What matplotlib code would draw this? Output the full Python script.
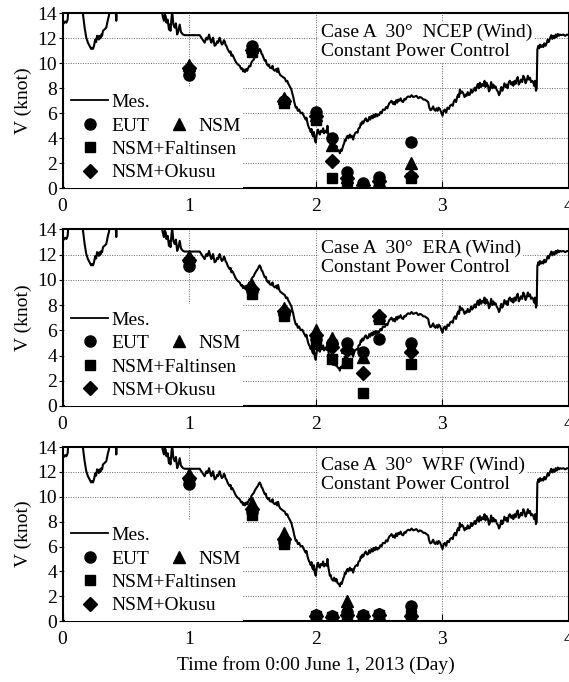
import matplotlib
matplotlib.use("Agg")
import matplotlib.pyplot as plt
from matplotlib.lines import Line2D

plt.rcParams["font.family"] = ["Liberation Serif", "DejaVu Serif"]
plt.rcParams["font.size"] = 14

# measured speed (same record in every panel)
mes_day = [
    0.000, 0.010, 0.020, 0.030, 0.040, 0.047, 0.080, 0.120, 0.155,
    0.160, 0.174, 0.187, 0.200, 0.213, 0.225, 0.232, 0.240, 0.248, 0.258, 0.265,
    0.272, 0.280, 0.286, 0.292, 0.299, 0.306, 0.312, 0.319, 0.330, 0.345, 0.352,
    0.358, 0.366, 0.372, 0.400, 0.418, 0.424, 0.430, 0.450, 0.550, 0.700, 0.780,
    0.790, 0.800, 0.808, 0.815, 0.820, 0.830, 0.840, 0.845, 0.852, 0.860, 0.866,
    0.875, 0.885, 0.895, 0.905, 0.915, 0.925, 0.935, 0.951, 0.965, 1.083,
    1.096, 1.110, 1.122, 1.130, 1.136, 1.145, 1.157, 1.165, 1.175, 1.182, 1.188,
    1.195, 1.201, 1.212, 1.220, 1.228, 1.235, 1.241, 1.250, 1.258, 1.267, 1.274,
    1.281, 1.288, 1.294, 1.305, 1.320, 1.327, 1.333, 1.340, 1.346, 1.355, 1.364,
    1.372, 1.385, 1.399, 1.410, 1.418, 1.425, 1.432, 1.440, 1.451, 1.458, 1.465,
    1.475, 1.483, 1.491, 1.500, 1.510, 1.518, 1.530, 1.544, 1.550, 1.557, 1.565,
    1.572, 1.578, 1.585, 1.597, 1.605, 1.612, 1.623, 1.630, 1.637, 1.650, 1.658,
    1.665, 1.676, 1.688, 1.695, 1.702, 1.710, 1.720, 1.728, 1.740, 1.755, 1.765,
    1.775, 1.781, 1.792, 1.807, 1.814, 1.820, 1.830, 1.842, 1.850, 1.858, 1.868,
    1.874, 1.882, 1.894, 1.900, 1.913, 1.920, 1.926, 1.935, 1.940, 1.948, 1.953,
    1.960, 1.966, 1.972, 1.979, 1.985, 1.992, 2.000, 2.006, 2.012, 2.018, 2.025,
    2.032, 2.040, 2.050, 2.058, 2.065, 2.072, 2.084, 2.092, 2.098, 2.105, 2.111,
    2.118, 2.125, 2.137, 2.145, 2.155, 2.163, 2.170, 2.178, 2.185, 2.190, 2.197,
    2.205, 2.216, 2.224, 2.230, 2.236, 2.242, 2.250, 2.258, 2.269, 2.277, 2.285,
    2.295, 2.302, 2.310, 2.321, 2.330, 2.338, 2.348, 2.355, 2.361, 2.368, 2.375,
    2.387, 2.395, 2.405, 2.414, 2.422, 2.430, 2.440, 2.450, 2.458, 2.466, 2.475,
    2.485, 2.493, 2.500, 2.510, 2.519, 2.530, 2.545, 2.555, 2.565, 2.572, 2.580,
    2.590, 2.598, 2.610, 2.618, 2.625, 2.635, 2.643, 2.651, 2.660, 2.670, 2.680,
    2.690, 2.700, 2.710, 2.717, 2.730, 2.745, 2.756, 2.770, 2.783, 2.795, 2.810,
    2.822, 2.835, 2.850, 2.862, 2.875, 2.888, 2.895, 2.905, 2.914, 2.927, 2.935,
    2.945, 2.954, 2.962, 2.970, 2.980, 2.990, 3.001, 3.010, 3.020, 3.030, 3.040,
    3.052, 3.060, 3.072, 3.082, 3.090, 3.099, 3.108, 3.118, 3.125, 3.132, 3.138,
    3.145, 3.155, 3.165, 3.175, 3.185, 3.191, 3.200, 3.210, 3.217, 3.227, 3.235,
    3.244, 3.255, 3.262, 3.270, 3.280, 3.288, 3.296, 3.305, 3.315, 3.323, 3.333,
    3.340, 3.349, 3.360, 3.368, 3.375, 3.385, 3.395, 3.402, 3.410, 3.420, 3.428,
    3.440, 3.447, 3.454, 3.465, 3.473, 3.481, 3.490, 3.500, 3.507, 3.515, 3.525,
    3.533, 3.545, 3.553, 3.560, 3.570, 3.578, 3.586, 3.595, 3.603, 3.612, 3.620,
    3.630, 3.639, 3.648, 3.657, 3.665, 3.675, 3.683, 3.692, 3.700, 3.710, 3.718,
    3.725, 3.732, 3.739, 3.745, 3.750, 3.758, 3.765, 3.771, 3.780, 3.790, 3.797,
    3.805, 3.815, 3.823, 3.832, 3.840, 3.850, 3.860, 3.868, 3.876, 3.885, 3.895,
    3.902, 3.912, 3.920, 3.929, 3.940, 3.955, 3.970, 3.985, 4.000,
]
mes_knot = [
    13.40, 13.20, 13.35, 13.25, 13.50, 14.60, 15.00, 15.00, 14.40,
    14.00, 12.85, 12.05, 11.65, 11.40, 11.15, 11.25, 11.15, 11.40, 11.90, 11.70,
    12.20, 12.15, 11.90, 12.20, 12.00, 12.30, 12.20, 12.60, 12.70, 12.85, 13.20,
    13.50, 13.80, 14.30, 15.00, 14.50, 13.40, 14.50, 15.20, 15.50, 15.50, 14.60,
    13.80, 13.40, 13.90, 13.75, 13.25, 13.50, 12.70, 13.10, 12.60, 13.60, 14.10,
    13.10, 12.85, 13.20, 12.30, 12.60, 13.10, 12.50, 12.30, 12.25, 12.25,
    12.05, 11.85, 11.65, 11.90, 12.05, 11.90, 12.30, 11.95, 11.65, 11.90, 12.05,
    11.70, 11.40, 11.50, 11.75, 11.65, 11.90, 12.05, 11.70, 11.50, 11.60, 11.85,
    11.75, 11.45, 11.40, 11.10, 10.85, 10.95, 10.60, 10.70, 10.60, 10.40, 10.20,
    10.05, 9.90, 9.80, 9.55, 9.60, 9.35, 9.50, 9.30, 9.55, 9.40, 9.60,
    9.80, 9.75, 10.05, 10.20, 10.30, 10.50, 10.70, 10.90, 11.05, 11.15, 11.00,
    10.75, 10.70, 10.50, 10.20, 10.25, 9.95, 9.80, 9.90, 9.65, 9.60, 9.80,
    9.50, 9.40, 9.55, 9.30, 9.60, 9.25, 9.05, 9.00, 8.90, 8.80, 8.55,
    8.60, 8.40, 8.20, 7.90, 7.60, 7.40, 6.90, 6.45, 6.50, 6.20, 6.30,
    6.15, 6.00, 6.05, 5.90, 5.65, 5.50, 5.65, 5.20, 5.00, 4.80, 4.72,
    4.50, 4.75, 4.30, 4.15, 4.50, 3.90, 3.65, 4.20, 4.60, 4.70, 4.40,
    4.30, 4.60, 4.50, 4.80, 4.40, 4.60, 4.45, 5.00, 4.40, 4.00, 3.65,
    3.70, 3.40, 3.25, 3.50, 3.20, 3.40, 3.10, 3.00, 3.00, 2.80, 3.10,
    3.00, 3.40, 3.60, 3.90, 3.80, 4.05, 4.20, 4.00, 4.30, 4.10, 4.20,
    3.90, 4.20, 4.40, 4.50, 4.45, 4.80, 4.85, 5.20, 5.10, 5.35, 5.20,
    5.50, 5.60, 5.35, 5.40, 5.70, 5.50, 5.80, 5.60, 5.90, 5.70, 5.95,
    5.75, 5.90, 5.85, 6.10, 6.00, 6.30, 6.27, 6.50, 6.40, 6.60, 6.80,
    6.90, 7.00, 6.75, 6.90, 6.70, 7.05, 6.85, 7.10, 7.00, 7.20, 6.95,
    6.90, 7.15, 7.10, 7.25, 7.35, 7.30, 7.45, 7.30, 7.35, 7.40, 7.20,
    7.30, 7.25, 7.10, 7.10, 7.00, 6.90, 6.50, 6.25, 6.30, 6.55, 6.30,
    6.20, 6.40, 6.20, 6.45, 6.35, 6.10, 5.80, 6.20, 6.30, 6.05, 6.45,
    6.35, 6.60, 6.70, 6.60, 6.95, 7.10, 6.90, 7.35, 7.50, 7.30, 7.90,
    7.60, 7.75, 7.60, 7.30, 7.50, 7.40, 7.70, 7.45, 7.50, 7.90, 7.65,
    7.80, 8.05, 7.80, 8.10, 8.35, 8.00, 8.45, 8.10, 8.35, 8.20, 8.60,
    8.10, 8.45, 8.20, 7.75, 7.90, 8.50, 8.00, 8.30, 8.05, 8.15, 7.90,
    7.70, 7.45, 7.60, 8.10, 7.80, 8.00, 8.40, 8.10, 8.30, 8.00, 8.50,
    8.60, 8.30, 8.50, 8.20, 8.60, 8.35, 8.70, 8.90, 8.30, 8.45, 8.70,
    8.50, 9.00, 8.80, 8.40, 8.60, 9.00, 8.70, 8.85, 8.50, 8.60, 8.45,
    8.20, 8.60, 7.80, 8.00, 11.10, 11.40, 11.20, 11.50, 11.30, 11.45, 11.30,
    11.60, 11.40, 11.60, 11.90, 11.70, 12.00, 12.25, 11.95, 12.20, 12.00, 12.30,
    12.10, 12.35, 12.20, 12.30, 12.25, 12.30, 12.20, 12.30, 12.25,
]

# estimated speeds at the forecast times, one dict per wind source
est_day = [1.0, 1.5, 1.75, 2.0, 2.125, 2.25, 2.375, 2.5, 2.75]
cases = ["NCEP", "ERA", "WRF"]
eut = {
    "NCEP": [9.1, 11.4, 7.0, 6.1, 4.0, 1.3, 0.4, 0.9, 3.7],
    "ERA": [11.1, 9.1, 7.3, 5.3, 5.0, 5.0, 4.3, 5.3, 5.0],
    "WRF": [11.0, 8.8, 6.4, 0.5, 0.4, 0.7, 0.5, 0.6, 1.2],
}
nsm = {
    "NCEP": [9.9, 11.3, 7.2, 5.9, 3.5, 0.9, 0.3, 0.6, 2.0],
    "ERA": [11.9, 9.6, 7.8, 6.0, 5.4, 4.7, 3.9, 7.2, 4.7],
    "WRF": [11.8, 9.5, 7.1, 0.5, 0.4, 1.6, 0.5, 0.6, 0.9],
}
faltinsen = {
    "NCEP": [9.4, 10.9, 6.8, 5.5, 0.8, 0.6, 0.2, 0.5, 0.8],
    "ERA": [11.4, 8.9, 7.1, 4.9, 3.7, 3.4, 1.0, 6.9, 3.3],
    "WRF": [11.3, 8.5, 6.2, 0.4, 0.3, 0.5, 0.4, 0.5, 0.5],
}
okusu = {
    "NCEP": [9.6, 11.1, 7.0, 5.8, 2.2, 0.8, 0.3, 0.6, 1.0],
    "ERA": [11.6, 9.3, 7.5, 5.6, 4.7, 4.4, 2.6, 7.1, 4.3],
    "WRF": [11.5, 9.0, 6.6, 0.4, 0.3, 0.5, 0.4, 0.5, 0.4],
}

W, H = 569, 682
# axes boxes in pixels: (top, bottom)
panel_px = [(13.3, 188.3), (229.5, 405.9), (447.0, 621.2)]
left_px, right_px = 62.6, 569.0

fig = plt.figure(figsize=(W / 100, H / 100), dpi=100)

for i, case in enumerate(cases):
    top, bot = panel_px[i]
    ax = fig.add_axes([left_px / W, 1 - bot / H, (right_px - left_px) / W, (bot - top) / H])
    ax.set_xlim(0, 4)
    ax.set_ylim(0, 14)
    ax.set_xticks(range(0, 5))
    ax.set_yticks(range(0, 15, 2))
    ax.grid(True, linestyle=(0, (1, 1.5)), color="0.4", linewidth=0.7, zorder=0)
    ax.tick_params(axis="x", direction="in", length=5, pad=7, labelsize=14)
    ax.tick_params(axis="y", direction="out", length=3, pad=1, labelsize=14)
    for s in ax.spines.values():
        s.set_linewidth(1.5)

    ax.plot(mes_day, mes_knot, color="black", lw=1.5, zorder=2)

    ax.plot(est_day, eut[case], "o", color="black", ms=8, zorder=3)
    ax.plot(est_day, faltinsen[case], "s", color="black", ms=7.5, zorder=3)
    ax.plot(est_day, okusu[case], "D", color="black", ms=7, zorder=3)
    ax.plot(est_day, nsm[case], "^", color="black", ms=8.5, zorder=3)

    ax.text(2.04, 13.2, f"Case A  30°  {case} (Wind)\nConstant Power Control",
            ha="left", va="top", fontsize=14, linespacing=1.15, zorder=4,
            bbox=dict(facecolor="white", edgecolor="none", pad=1.5))

    h_mes = Line2D([], [], color="black", lw=1.3)
    h_eut = Line2D([], [], ls="", marker="o", color="black", ms=8)
    h_fal = Line2D([], [], ls="", marker="s", color="black", ms=7.5)
    h_oku = Line2D([], [], ls="", marker="D", color="black", ms=7)
    h_nsm = Line2D([], [], ls="", marker="^", color="black", ms=8.5)
    leg = ax.legend([h_mes, h_eut, h_fal, h_oku], ["Mes.", "EUT", "NSM+Faltinsen", "NSM+Okusu"],
                    loc="lower left", bbox_to_anchor=(0.004, 0.0), borderaxespad=0,
                    handlelength=1.9, handletextpad=0.15, labelspacing=0.3,
                    borderpad=0.35, fontsize=14, frameon=True, fancybox=False,
                    framealpha=1, edgecolor="none", facecolor="white")
    leg.set_zorder(5)
    ax.add_artist(leg)
    leg2 = ax.legend([h_nsm], ["NSM"], loc="center left", bbox_to_anchor=(0.19, 0.355),
                     borderaxespad=0, handlelength=1.7, handletextpad=0.15,
                     borderpad=0.2, fontsize=14, frameon=False)
    leg2.set_zorder(6)

    ax.set_ylabel("V (knot)", fontsize=14, labelpad=4)
    if i == 2:
        ax.set_xlabel("Time from 0:00 June 1, 2013 (Day)", fontsize=14, labelpad=6)

fig.savefig("out.png", dpi=100)
